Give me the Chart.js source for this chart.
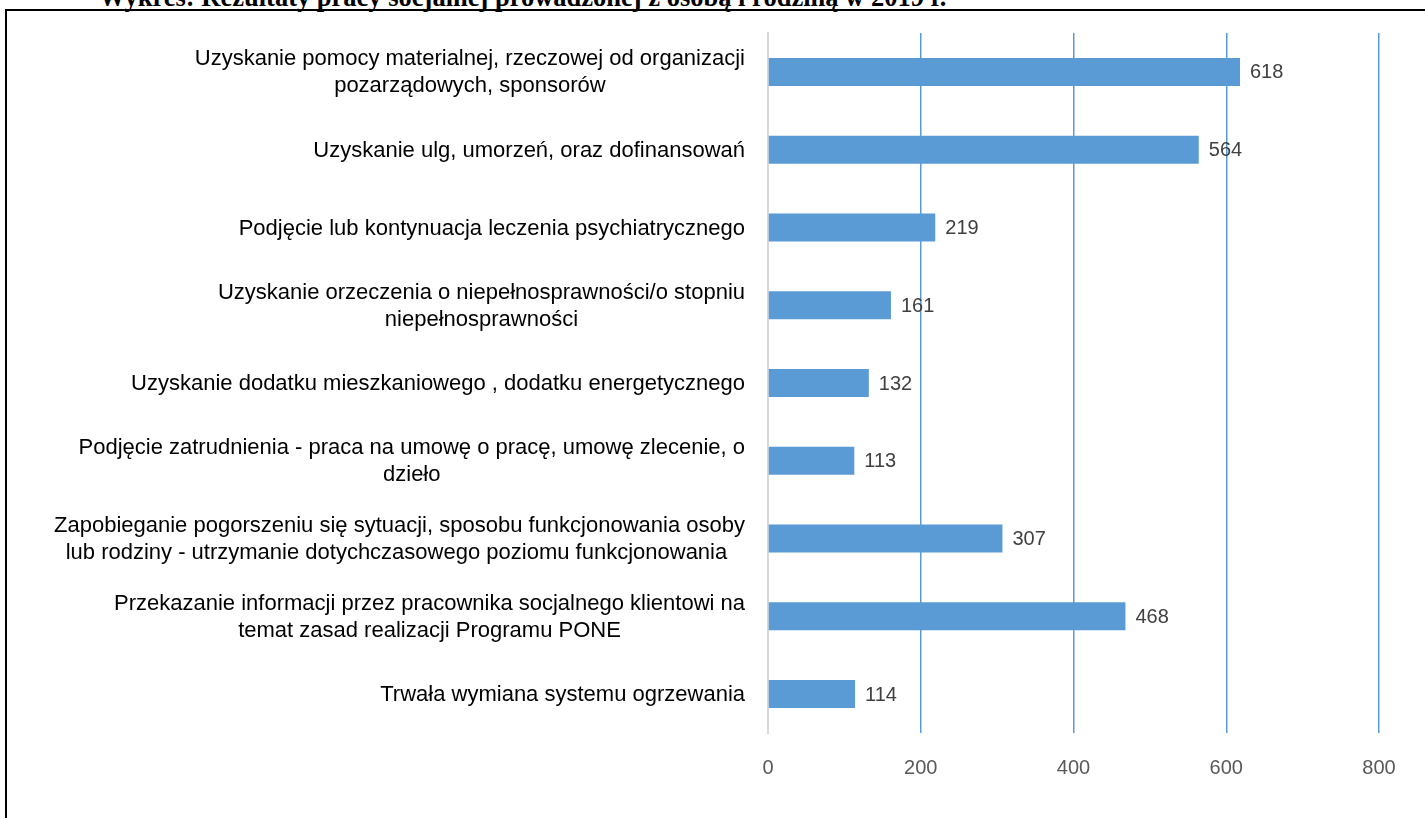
<!DOCTYPE html>
<html>
<head>
<meta charset="utf-8">
<script src="https://cdn.jsdelivr.net/npm/chart.js@4.4.0/dist/chart.umd.min.js"></script>
<style>
  html, body { margin: 0; padding: 0; background: #fff; overflow: hidden; }
  #frame { position: absolute; left: 5px; top: 9px; width: 1500px; height: 900px; border: 2px solid #000; }
  #title { position: absolute; left: 99px; top: -18px; font: bold 26.5px/30px "Liberation Serif", serif; color: #000; white-space: nowrap; }
  #wrap { position: absolute; left: 0; top: 0; width: 1425px; height: 818px; }
</style>
</head>
<body>
<div id="title">Wykres: Rezultaty pracy socjalnej prowadzonej z osobą i rodziną w 2019 r.</div>
<div id="frame"></div>
<div id="wrap"><canvas id="chart" width="1425" height="818"></canvas></div>
<script>
// categories (multi-line ones as arrays)
const categories = [
  ['Uzyskanie pomocy materialnej, rzeczowej od organizacji', 'pozarządowych, sponsorów'],
  ['Uzyskanie ulg, umorzeń, oraz dofinansowań'],
  ['Podjęcie lub kontynuacja leczenia psychiatrycznego'],
  ['Uzyskanie orzeczenia o niepełnosprawności/o stopniu', 'niepełnosprawności'],
  ['Uzyskanie dodatku mieszkaniowego , dodatku energetycznego'],
  ['Podjęcie zatrudnienia - praca na umowę o pracę, umowę zlecenie, o', 'dzieło'],
  ['Zapobieganie pogorszeniu się sytuacji, sposobu funkcjonowania osoby', 'lub rodziny - utrzymanie dotychczasowego poziomu funkcjonowania '],
  ['Przekazanie informacji przez pracownika socjalnego klientowi na', 'temat zasad realizacji Programu PONE'],
  ['Trwała wymiana systemu ogrzewania']
];
const values = [618, 564, 219, 161, 132, 113, 307, 468, 114];
const xTicks = [0, 200, 400, 600, 800];

const FONT = '"Liberation Sans", Arial, sans-serif';

// category labels: block right-aligned to the axis, lines centred inside the block
const categoryLabels = {
  id: 'categoryLabels',
  afterDraw(chart) {
    const ctx = chart.ctx;
    const y = chart.scales.y;
    const right = chart.chartArea.left - 23;
    ctx.save();
    ctx.font = '22px ' + FONT;
    ctx.fillStyle = '#000';
    ctx.textAlign = 'center';
    ctx.textBaseline = 'middle';
    const lh = 27;
    categories.forEach((lines, i) => {
      const cy = y.getPixelForValue(i) + 1;
      const w = Math.max(...lines.map(l => ctx.measureText(l).width));
      const cx = right - w / 2;
      const y0 = cy - (lines.length - 1) * lh / 2;
      lines.forEach((l, j) => ctx.fillText(l, cx, y0 + j * lh));
    });
    ctx.restore();
  }
};

// value labels at the end of each bar
const valueLabels = {
  id: 'valueLabels',
  afterDatasetsDraw(chart) {
    const ctx = chart.ctx;
    const meta = chart.getDatasetMeta(0);
    ctx.save();
    ctx.font = '20px ' + FONT;
    ctx.fillStyle = '#404040';
    ctx.textAlign = 'left';
    ctx.textBaseline = 'middle';
    meta.data.forEach((bar, i) => {
      ctx.fillText(String(values[i]), bar.x + 10, bar.y + 1);
    });
    ctx.restore();
  }
};

new Chart(document.getElementById('chart'), {
  type: 'bar',
  data: {
    labels: categories.map(c => c.join(' ')),
    datasets: [{
      data: values,
      backgroundColor: '#5b9bd5',
      borderWidth: 0,
      categoryPercentage: 1,
      barPercentage: 0.36
    }]
  },
  options: {
    indexAxis: 'y',
    responsive: false,
    animation: false,
    devicePixelRatio: 1,
    layout: { padding: { top: 33, right: 46, left: 0, bottom: 0 } },
    plugins: { legend: { display: false }, tooltip: { enabled: false } },
    scales: {
      x: {
        min: 0,
        max: 800,
        afterBuildTicks(scale) { scale.ticks = xTicks.map(v => ({ value: v })); },
        afterFit(scale) { scale.height = 85; },
        grid: {
          color: ctx => ctx.tick && ctx.tick.value === 0 ? '#d9d9d9' : '#5b9bd5',
          lineWidth: 1.5,
          drawTicks: false
        },
        border: { display: false },
        ticks: { color: '#595959', font: { family: FONT, size: 20 }, padding: 23 }
      },
      y: {
        afterFit(scale) { scale.width = 768; },
        grid: { display: false },
        border: { color: '#d9d9d9', width: 2 },
        ticks: { display: false }
      }
    }
  },
  plugins: [categoryLabels, valueLabels]
});
</script>
</body>
</html>
